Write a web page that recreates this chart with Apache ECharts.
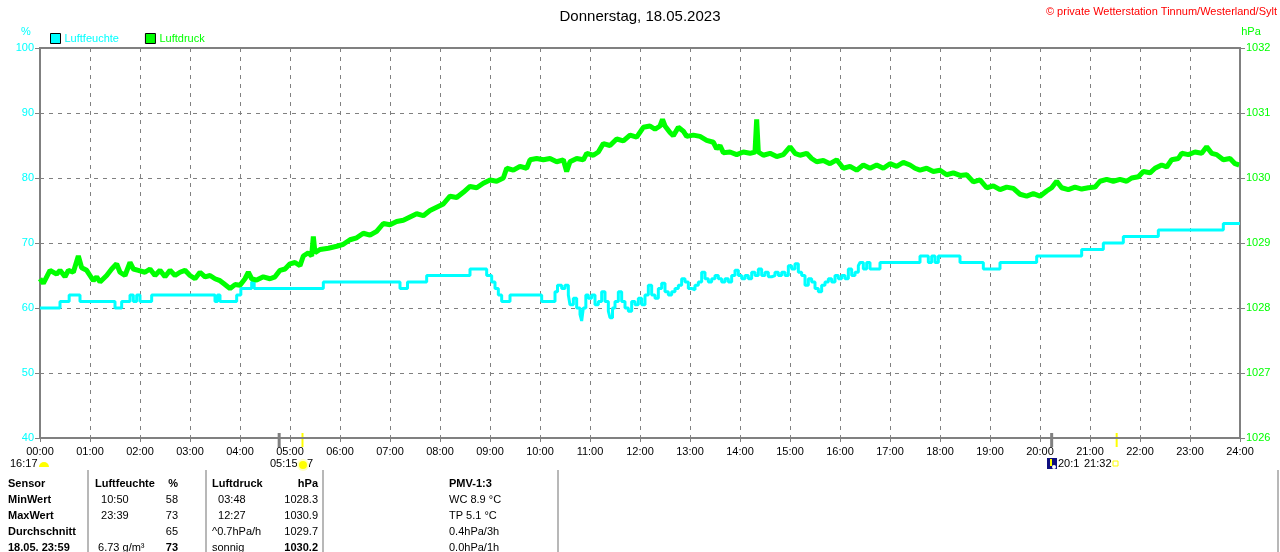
<!DOCTYPE html>
<html>
  <head>
    <meta charset="utf-8" />
    <title>Wetterstation</title>
    <script src="https://cdn.jsdelivr.net/npm/echarts@6/dist/echarts.min.js"></script>
    <style>
      body { margin: 0; background-color: #ffffff; }
      #box { width: 1280px; height: 552px; }
    </style>
  </head>
  <body>
    <div id="box"></div>
    <script>
      // Luftfeuchte: Zeitpunkte der Wertänderung (Treppenkurve)
      var humTimes = ['00:00','00:24','00:35','00:48','01:30','01:38','01:48','01:52','01:56','02:00','02:14','03:30','03:33','03:36','03:56','04:01','04:14','04:17','05:40','07:12','07:21','07:44','08:36','08:56','09:02','09:06','09:10','09:14','09:24','10:02',
        '10:18','10:21','10:26','10:30','10:34','10:36','10:40','10:44','10:48','10:50','10:52','10:55','10:58','11:02','11:06','11:10','11:14','11:18','11:22','11:24','11:27','11:30','11:34','11:38','11:42','11:46','11:50','11:54','11:58',
        '12:02','12:06','12:10','12:14','12:18','12:22','12:26','12:30','12:34','12:38','12:42','12:46','12:50','12:54','12:58','13:02','13:06','13:10','13:14','13:18','13:22','13:26','13:30','13:34','13:38','13:42','13:46','13:50','13:54','13:58',
        '14:02','14:06','14:10','14:14','14:18','14:22','14:26','14:30','14:34','14:38','14:42','14:46','14:50','14:54','14:58','15:02','15:06','15:10','15:14','15:18','15:22','15:26','15:30','15:34','15:38','15:42','15:46','15:50','15:54','15:58',
        '16:02','16:06','16:10','16:14','16:18','16:22','16:24','16:28','16:32','16:36','16:48','17:36','17:46','17:50','17:54','17:58','18:24','18:52','19:12','19:56','20:50','21:16','21:40','22:22','23:40','24:00'];
      var humValues = [60,61,62,61,60,61,62,61,62,61,62,61,62,61,62,63,64,63,64,63,64,65,66,65,64,63,62,61,62,61,
        62.5,63.5,63,63.5,62,60.5,61.5,60,59,58,60,62,61.5,62,60.5,61,62.5,61,59.5,58.5,60,61,62.5,61,60,59.5,61,60.5,61.5,
        60.5,62,63.5,62,61.5,63,63.8,62.5,62,62.5,63,63.5,64.5,64,63,62.8,63.5,64,65.5,64.5,64,64.5,65,64.5,64,64.5,64,65,65.8,65,
        64.5,65,64.5,65.5,65,66,65,65.5,64.8,65,65.5,65,65.5,65,66.5,66,66.8,65.5,65,63.5,64.5,64,63,62.5,63.5,64,64.5,64,65,64.5,
        65,64.5,66,65,65.5,66.5,67,66,67,66,67,68,67,68,67,68,67,66,67,68,69,70,71,72,73,73];

      // Luftdruck
      var pressTimes = ['00:00','00:04','00:08','00:12','00:20','00:24','00:30','00:34','00:40','00:46','00:50','00:56','01:00','01:04','01:08','01:12','01:16','01:20','01:26','01:32','01:36','01:42','01:48','01:52','01:58',
        '02:06','02:12','02:18','02:24','02:30','02:36','02:42','02:48','02:54','03:00','03:06','03:12','03:18','03:24','03:30','03:36','03:40','03:48','03:54','04:00','04:06','04:10','04:14','04:20','04:28','04:36','04:42','04:48','04:54',
        '05:00','05:06','05:12','05:16','05:22','05:26','05:28','05:30','05:36','05:46','05:56','06:04','06:12','06:20','06:28','06:36','06:44','06:52','07:00','07:08','07:16','07:24','07:32','07:40','07:48','07:56',
        '08:04','08:12','08:20','08:28','08:36','08:44','08:52','09:00','09:08','09:16','09:20','09:28','09:36','09:44','09:48','09:56','10:04','10:12','10:20','10:28','10:32','10:36','10:44','10:52','10:56',
        '11:04','11:10','11:16','11:24','11:32','11:40','11:48','11:56','12:04','12:12','12:18','12:24','12:27','12:30','12:36','12:40','12:46','12:52','12:56','13:04','13:12','13:20','13:28','13:32','13:36','13:40','13:48','13:56',
        '14:04','14:12','14:18','14:20','14:22','14:28','14:36','14:44','14:52','15:00','15:06','15:12','15:20','15:26','15:32','15:40','15:48','15:56','16:04','16:12','16:20','16:28','16:36','16:44','16:52',
        '17:00','17:08','17:16','17:24','17:30','17:36','17:44','17:52','18:00','18:08','18:16','18:24','18:32','18:40','18:48','18:56','19:04','19:12','19:20','19:28','19:36','19:44','19:52',
        '20:00','20:08','20:14','20:20','20:26','20:34','20:42','20:50','20:58','21:06','21:12','21:20','21:28','21:36','21:44','21:50','21:58','22:04','22:12','22:18','22:26','22:32','22:38','22:46','22:50','22:58',
        '23:06','23:14','23:20','23:26','23:32','23:40','23:48','23:54','23:59'];
      var pressValues = [1028.45,1028.38,1028.48,1028.58,1028.52,1028.58,1028.48,1028.58,1028.55,1028.8,1028.62,1028.58,1028.5,1028.42,1028.48,1028.4,1028.45,1028.5,1028.6,1028.68,1028.55,1028.5,1028.7,1028.6,1028.58,
        1028.55,1028.6,1028.5,1028.58,1028.48,1028.58,1028.5,1028.55,1028.58,1028.5,1028.45,1028.55,1028.48,1028.5,1028.45,1028.42,1028.38,1028.3,1028.36,1028.35,1028.45,1028.55,1028.45,1028.43,1028.48,1028.45,1028.48,1028.58,1028.6,
        1028.68,1028.7,1028.65,1028.8,1028.85,1028.8,1029.1,1028.85,1028.9,1028.92,1028.95,1028.98,1029.05,1029.08,1029.15,1029.12,1029.18,1029.3,1029.28,1029.33,1029.35,1029.4,1029.45,1029.42,1029.5,1029.55,
        1029.6,1029.72,1029.7,1029.78,1029.87,1029.85,1029.92,1029.97,1029.95,1030.0,1030.15,1030.12,1030.18,1030.15,1030.28,1030.3,1030.28,1030.3,1030.25,1030.28,1030.1,1030.25,1030.3,1030.28,1030.38,
        1030.35,1030.4,1030.53,1030.5,1030.6,1030.57,1030.66,1030.63,1030.78,1030.8,1030.75,1030.8,1030.9,1030.8,1030.7,1030.65,1030.78,1030.72,1030.64,1030.66,1030.64,1030.58,1030.55,1030.45,1030.5,1030.39,1030.4,1030.36,
        1030.4,1030.38,1030.4,1030.9,1030.4,1030.35,1030.38,1030.33,1030.36,1030.48,1030.38,1030.35,1030.38,1030.3,1030.25,1030.27,1030.22,1030.28,1030.15,1030.18,1030.12,1030.2,1030.15,1030.2,1030.15,
        1030.22,1030.18,1030.24,1030.2,1030.15,1030.12,1030.15,1030.1,1030.12,1030.05,1030.08,1030.04,1030.05,1029.94,1029.97,1029.85,1029.88,1029.82,1029.86,1029.84,1029.75,1029.72,1029.76,
        1029.72,1029.8,1029.85,1029.95,1029.85,1029.82,1029.86,1029.83,1029.85,1029.86,1029.95,1029.98,1029.95,1029.98,1029.95,1030.0,1030.02,1030.1,1030.08,1030.15,1030.2,1030.17,1030.28,1030.3,1030.38,1030.36,
        1030.4,1030.38,1030.48,1030.38,1030.36,1030.28,1030.3,1030.22,1030.2];

      // Tabelle unter dem Diagramm
      var tableRows = [
        ['Sensor', 'Luftfeuchte', '%', 'Luftdruck', 'hPa', 'PMV-1:3'],
        ['MinWert', '  10:50', '58', '  03:48', '1028.3', 'WC 8.9 °C'],
        ['MaxWert', '  23:39', '73', '  12:27', '1030.9', 'TP 5.1 °C'],
        ['Durchschnitt', '', '65', '^0.7hPa/h', '1029.7', '0.4hPa/3h'],
        ['18.05. 23:59', ' 6.73 g/m³', '73', 'sonnig', '1030.2', '0.0hPa/1h']
      ];

      // Sonne / Mond Markierungen auf der Zeitachse
      var sunMarks = ['05:15', '21:32'];
      var moonMarks = ['04:47', '20:14'];

      function toMin(t) {
        var p = t.split(':');
        return parseInt(p[0]) * 60 + parseInt(p[1]);
      }
      function pairs(times, values) {
        return times.map(function (t, i) { return [toMin(t), values[i]]; });
      }

      var FONT = '"Liberation Sans", Arial, sans-serif';
      var GRAY = '#808080';

      var myChart = echarts.init(document.getElementById('box'));
      var option = {
        animation: false,
        backgroundColor: '#ffffff',
        title: {
          text: 'Donnerstag, 18.05.2023',
          left: 'center',
          top: 4,
          textStyle: { fontSize: 15, fontWeight: 'normal', color: '#000', fontFamily: FONT }
        },
        legend: {
          left: 45,
          top: 28,
          icon: 'rect',
          itemWidth: 10,
          itemHeight: 10,
          itemGap: 26,
          textStyle: { fontSize: 11, fontFamily: FONT, padding: [0, 0, 0, -1] },
          data: [
            { name: 'Luftfeuchte', textStyle: { color: '#00ffff' }, itemStyle: { borderColor: '#000', borderWidth: 1 } },
            { name: 'Luftdruck', textStyle: { color: '#00ff00' }, itemStyle: { borderColor: '#000', borderWidth: 1 } }
          ]
        },
        grid: {
          left: 40, right: 40, top: 48, bottom: 114,
          show: true, borderColor: GRAY, borderWidth: 2
        },
        xAxis: {
          type: 'value',
          min: 0, max: 1440, interval: 60,
          axisLine: { lineStyle: { color: GRAY, width: 2 } },
          axisTick: { show: true, length: 4, lineStyle: { color: GRAY } },
          axisLabel: {
            color: '#000', fontSize: 11, fontFamily: FONT, margin: 8,
            formatter: function (v) { var h = v / 60; return (h < 10 ? '0' : '') + h + ':00'; }
          },
          splitLine: { show: true, lineStyle: { color: GRAY, type: [4, 5], width: 1 } }
        },
        yAxis: [
          {
            type: 'value', min: 40, max: 100, interval: 10, position: 'left',
            axisLine: { show: true, lineStyle: { color: GRAY, width: 2 } },
            axisTick: { show: true, length: 5, lineStyle: { color: GRAY } },
            axisLabel: { color: '#00ffff', fontSize: 11, fontFamily: FONT, margin: 6 },
            splitLine: { show: true, lineStyle: { color: GRAY, type: [4, 5], width: 1 } }
          },
          {
            type: 'value', min: 1026, max: 1032, interval: 1, position: 'right',
            axisLine: { show: true, lineStyle: { color: GRAY, width: 2 } },
            axisTick: { show: true, length: 5, lineStyle: { color: GRAY } },
            axisLabel: {
              color: '#00ff00', fontSize: 11, fontFamily: FONT, margin: 6,
              formatter: function (v) { return String(v); }
            },
            splitLine: { show: false }
          }
        ],
        series: [
          {
            name: 'Luftfeuchte',
            type: 'line',
            step: 'end',
            yAxisIndex: 0,
            showSymbol: false,
            color: '#00ffff',
            lineStyle: { color: '#00ffff', width: 3 },
            data: pairs(humTimes, humValues)
          },
          {
            name: 'Luftdruck',
            type: 'line',
            yAxisIndex: 1,
            showSymbol: false,
            color: '#00ff00',
            lineStyle: { color: '#00ff00', width: 5 },
            data: pairs(pressTimes, pressValues)
          }
        ]
      };
      myChart.setOption(option);

      // Texte, Tabelle und Markierungen
      var g = [];
      function txt(x, y, s, color, align, bold, size) {
        g.push({
          type: 'text', x: x, y: y, silent: true,
          style: {
            text: s, fill: color || '#000', align: align || 'left', verticalAlign: 'middle',
            font: (bold ? 'bold ' : '') + (size || 11) + 'px ' + FONT
          }
        });
      }
      function line(x1, y1, x2, y2, color, w) {
        g.push({ type: 'line', silent: true, shape: { x1: x1, y1: y1, x2: x2, y2: y2 }, style: { stroke: color, lineWidth: w } });
      }

      txt(1277, 12, '© private Wetterstation Tinnum/Westerland/Sylt', '#ff0000', 'right', false, 11);
      txt(26, 32, '%', '#00ffff', 'center');
      txt(1251, 32, 'hPa', '#00ff00', 'center');

      // Markierungen unter der x-Achse
      var axisY = myChart.convertToPixel({ yAxisIndex: 0 }, 40);
      moonMarks.forEach(function (t) {
        var x = myChart.convertToPixel({ xAxisIndex: 0 }, toMin(t));
        line(x, axisY - 5, x, axisY + 9, GRAY, 3);
      });
      sunMarks.forEach(function (t) {
        var x = myChart.convertToPixel({ xAxisIndex: 0 }, toMin(t));
        line(x, axisY - 5, x, axisY + 9, '#ffff00', 2);
      });

      // zweite Zeile unter der Achse
      txt(10, 464, '16:17');
      g.push({ type: 'sector', silent: true, shape: { cx: 44, cy: 467, r: 5, r0: 0, startAngle: Math.PI, endAngle: 2 * Math.PI }, style: { fill: '#ffff00' } });
      txt(270, 464, '05:15');
      g.push({ type: 'circle', silent: true, shape: { cx: 303, cy: 465, r: 6 }, style: { fill: '#ffffc0' } });
      g.push({ type: 'circle', silent: true, shape: { cx: 303, cy: 465, r: 4 }, style: { fill: '#ffff00' } });
      txt(307, 464, '7');
      g.push({ type: 'rect', silent: true, shape: { x: 1047, y: 458, width: 10, height: 11 }, style: { fill: '#101080' } });
      line(1051, 459, 1051, 466, '#ffff00', 2);
      g.push({ type: 'circle', silent: true, shape: { cx: 1054, cy: 467, r: 2 }, style: { fill: '#ffffff' } });
      txt(1058, 464, '20:1');
      txt(1084, 464, '21:32');
      g.push({ type: 'rect', silent: true, shape: { x: 1113, y: 461, width: 5, height: 5 }, style: { fill: 'none', stroke: '#ffff00', lineWidth: 1 } });

      // Trennlinien der Tabelle
      [88, 206, 323, 558, 1278].forEach(function (x) { line(x, 470, x, 552, '#a0a0a0', 1.5); });

      var colX = [8, 95, 178, 212, 318, 449];
      var colAlign = ['left', 'left', 'right', 'left', 'right', 'left'];
      tableRows.forEach(function (row, r) {
        row.forEach(function (s, c) {
          var bold = r === 0 || c === 0 || (r === 4 && (c === 2 || c === 4));
          txt(colX[c], 484 + r * 16, s, '#000', colAlign[c], bold);
        });
      });

      myChart.setOption({ graphic: g });
    </script>
  </body>
</html>
